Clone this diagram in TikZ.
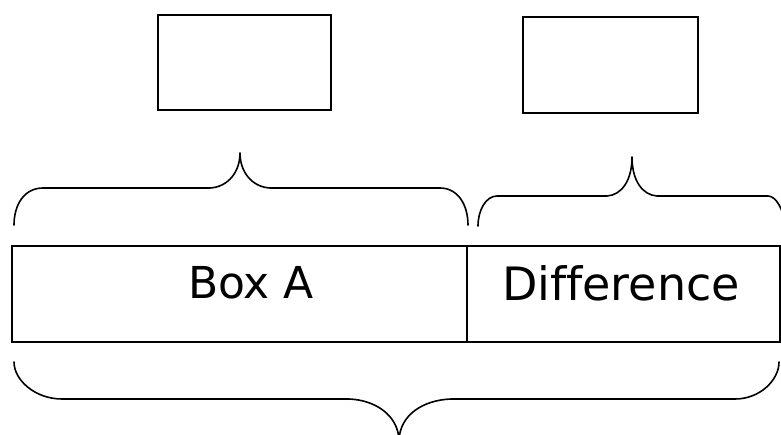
\documentclass[tikz,border=0pt]{standalone}
\usepackage{fontspec}
\setmainfont[Ligatures={NoCommon}]{DejaVu Sans}
\begin{document}
\begin{tikzpicture}[x=1pt,y=-1pt,
  emptybox/.style={draw,line width=2pt,inner sep=0pt,anchor=north west},
  barcell/.style={draw,line width=1.6pt,inner sep=0pt,anchor=north west,minimum height=96pt},
  bracepath/.style={line width=1.6pt,line cap=round,line join=round}]
\useasboundingbox (0,0) rectangle (781,435);
\clip (0,0) rectangle (781,435);
% top boxes
\node[emptybox,minimum width=173pt,minimum height=95pt] (topA) at (157,14) {};
\node[emptybox,minimum width=175pt,minimum height=96pt] (topD) at (522,16) {};
% bar
\node[barcell,minimum width=455pt] (boxa) at (11,245) {};
\node[barcell,minimum width=313pt] (diff) at (466,245) {};
\node[font=\fontsize{44}{50}\selectfont,inner sep=0pt] (ta) at (251,283) {Box A};
\node[font=\fontsize{46}{50}\selectfont,inner sep=0pt] (td) at (621,283) {Difference};
% upper brace over Box A
\draw[bracepath] (14,225) .. controls (14,205) and (24,188) .. (43,188)
  -- (210,188) .. controls (228,187) and (240,172) .. (240,153)
  .. controls (240,172) and (252,187) .. (270,188)
  -- (440,188) .. controls (458,188) and (468,205) .. (468,225);
% upper brace over Difference
\draw[bracepath] (478,226) .. controls (478,210) and (486,196) .. (497,196)
  -- (607,196) .. controls (622,195) and (632,180) .. (632,157)
  .. controls (632,180) and (642,195) .. (657,196)
  -- (768,196) .. controls (776,196) and (784,210) .. (785,226);
% bottom brace
\draw[bracepath] (14,362) .. controls (14,380) and (35,399) .. (62,399)
  -- (349,399) .. controls (375,400) and (398,415) .. (399,440);
\draw[bracepath] (399,440) .. controls (400,415) and (423,400) .. (451,399)
  -- (735,399) .. controls (760,399) and (779,380) .. (779,362);
\end{tikzpicture}
\end{document}
